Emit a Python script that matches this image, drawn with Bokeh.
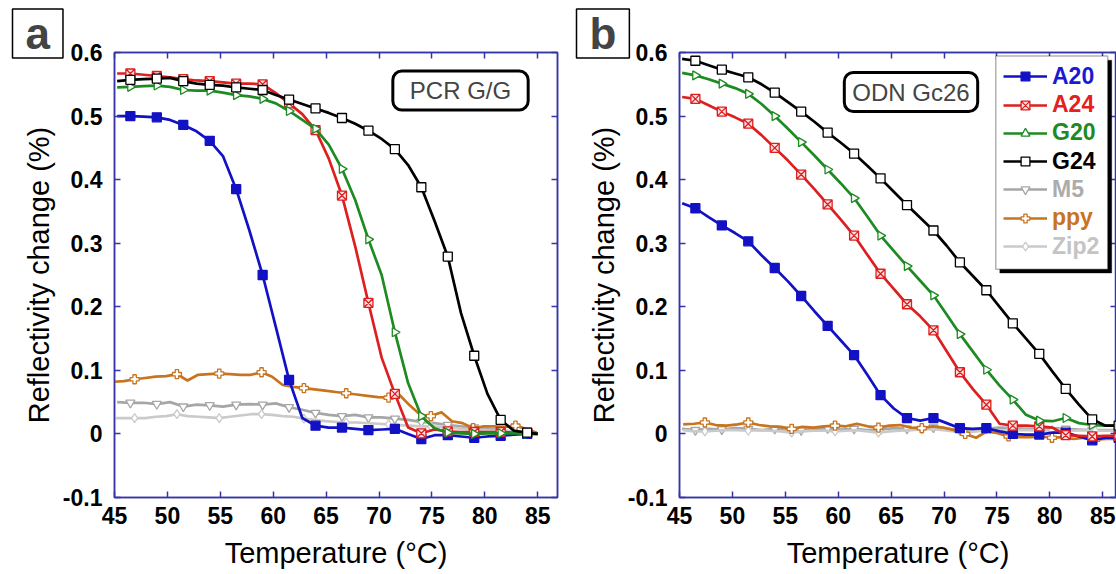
from bokeh.plotting import figure
from bokeh.layouts import row
from bokeh.models import (LinearAxis, FixedTicker, Range1d, Label, Legend,
                          LegendItem, BoxAnnotation, Title)
from bokeh.embed import file_html
from bokeh.resources import INLINE

# ---------------- data ----------------
series_names = ["A20", "A24", "G20", "G24", "M5", "ppy", "Zip2"]
x_ticks = [45, 50, 55, 60, 65, 70, 75, 80, 85]
y_ticks = [-0.1, 0, 0.1, 0.2, 0.3, 0.4, 0.5, 0.6]
y_tick_labels = ["-0.1", "0", "0.1", "0.2", "0.3", "0.4", "0.5", "0.6"]

# temperature samples (panel a)
t_a = [45.25, 46.5, 47.75, 49.0, 50.25, 51.5, 52.75, 54.0, 55.25, 56.5, 57.75,
       59.0, 60.25, 61.5, 62.75, 64.0, 65.25, 66.5, 67.75, 69.0, 70.25, 71.5,
       72.75, 74.0, 75.25, 76.5, 77.75, 79.0, 80.25, 81.5, 82.75, 84.0, 85.0]
t2_a = [44.9, 45.9, 46.9, 47.9, 48.9, 49.9, 50.9, 51.9, 52.9, 53.9, 54.9, 55.9,
        56.9, 57.9, 58.9, 59.9, 60.9, 61.9, 62.9, 63.9, 64.9, 65.9, 66.9, 67.9,
        68.9, 69.9, 70.9, 71.9, 72.9, 73.9, 74.9, 75.9, 76.9, 77.9, 78.9, 79.9,
        80.9, 81.9, 82.9, 83.9, 84.9]

A20_a = [0.500, 0.500, 0.499, 0.498, 0.494, 0.486, 0.476, 0.461, 0.437, 0.385, 0.320,
         0.250, 0.168, 0.085, 0.025, 0.013, 0.010, 0.010, 0.008, 0.006, 0.007, 0.008,
         0.000, -0.008, -0.002, -0.002, -0.004, -0.006, -0.004, -0.003, -0.001, 0.000, 0.000]
A24_a = [0.567, 0.567, 0.565, 0.563, 0.561, 0.558, 0.556, 0.555, 0.553, 0.551, 0.551,
         0.550, 0.536, 0.520, 0.503, 0.478, 0.433, 0.375, 0.295, 0.206, 0.120, 0.063,
         0.010, 0.001, 0.007, 0.004, 0.003, 0.003, 0.003, 0.003, 0.002, 0.002, 0.001]
G20_a = [0.545, 0.546, 0.547, 0.548, 0.546, 0.541, 0.540, 0.540, 0.537, 0.533, 0.531,
         0.527, 0.520, 0.508, 0.494, 0.480, 0.455, 0.417, 0.368, 0.306, 0.250, 0.160,
         0.080, 0.028, 0.009, 0.002, 0.001, 0.000, 0.001, 0.001, 0.001, 0.000, 0.000]
G24_a = [0.555, 0.557, 0.558, 0.559, 0.560, 0.555, 0.551, 0.549, 0.548, 0.545, 0.543,
         0.541, 0.533, 0.526, 0.519, 0.512, 0.505, 0.497, 0.488, 0.477, 0.464, 0.448,
         0.423, 0.388, 0.335, 0.279, 0.190, 0.123, 0.063, 0.022, 0.005, 0.002, 0.000]
M5_a = [0.050, 0.049, 0.049, 0.047, 0.050, 0.043, 0.046, 0.045, 0.043, 0.046, 0.047,
        0.046, 0.048, 0.042, 0.038, 0.033, 0.030, 0.028, 0.030, 0.026, 0.026, 0.024,
        0.022, 0.019, 0.017, 0.014, 0.012, 0.010, 0.008, 0.006, 0.003, 0.002, 0.001]
ppy_a = [0.082, 0.083, 0.086, 0.088, 0.090, 0.091, 0.094, 0.084, 0.093, 0.094, 0.095,
         0.094, 0.093, 0.093, 0.097, 0.090, 0.077, 0.074, 0.072, 0.070, 0.068, 0.066,
         0.064, 0.062, 0.060, 0.058, 0.057, 0.062, 0.045, 0.030, 0.028, 0.034, 0.020,
         0.017, 0.009, 0.012, 0.012, 0.011, 0.013, 0.008, 0.002]
Zip2_a = [0.025, 0.025, 0.025, 0.025, 0.027, 0.028, 0.031, 0.028, 0.027, 0.026, 0.025,
          0.027, 0.029, 0.031, 0.031, 0.030, 0.028, 0.027, 0.024, 0.022, 0.020, 0.019,
          0.018, 0.018, 0.017, 0.016, 0.015, 0.014, 0.013, 0.012, 0.012, 0.011, 0.010,
          0.008, 0.007, 0.006, 0.005, 0.004, 0.004, 0.003, 0.002]

# temperature samples (panel b)
t_b = [45.25, 46.5, 47.75, 49.0, 50.25, 51.5, 52.75, 54.0, 55.25, 56.5, 57.75,
       59.0, 60.25, 61.5, 62.75, 64.0, 65.25, 66.5, 67.75, 69.0, 70.25, 71.5,
       72.75, 74.0, 75.25, 76.5, 77.75, 79.0, 80.25, 81.5, 82.75, 84.0, 85.25, 86.5]
t2_b = [45.35, 46.38, 47.40, 48.43, 49.45, 50.48, 51.50, 52.53, 53.55, 54.58, 55.60,
        56.63, 57.65, 58.68, 59.70, 60.73, 61.75, 62.78, 63.80, 64.83, 65.85, 66.88,
        67.90, 68.93, 69.95, 70.98, 72.00, 73.03, 74.05, 75.08, 76.10, 77.13, 78.15,
        79.18, 80.20, 81.23, 82.25, 83.28, 84.30, 85.33, 86.35]

A20_b = [0.363, 0.355, 0.341, 0.328, 0.316, 0.303, 0.281, 0.261, 0.240, 0.217, 0.193,
         0.170, 0.147, 0.124, 0.093, 0.061, 0.040, 0.025, 0.021, 0.025, 0.017, 0.009,
         0.008, 0.009, 0.004, 0.000, -0.001, -0.001, 0.002, 0.002, -0.004, -0.010,
         -0.006, -0.006]
A24_b = [0.530, 0.527, 0.517, 0.507, 0.498, 0.488, 0.470, 0.450, 0.430, 0.408, 0.385,
         0.361, 0.337, 0.312, 0.282, 0.252, 0.228, 0.204, 0.185, 0.163, 0.130, 0.097,
         0.070, 0.046, 0.016, 0.013, 0.013, 0.012, 0.010, -0.002, -0.003, -0.004,
         -0.003, -0.003]
G20_b = [0.568, 0.564, 0.558, 0.551, 0.544, 0.535, 0.519, 0.500, 0.480, 0.459, 0.438,
         0.416, 0.394, 0.371, 0.342, 0.312, 0.288, 0.264, 0.241, 0.218, 0.188, 0.157,
         0.129, 0.101, 0.076, 0.054, 0.030, 0.021, 0.020, 0.025, 0.017, 0.014, 0.013,
         0.013]
G24_b = [0.590, 0.587, 0.580, 0.573, 0.567, 0.561, 0.550, 0.537, 0.522, 0.507, 0.491,
         0.474, 0.458, 0.441, 0.422, 0.402, 0.381, 0.360, 0.340, 0.320, 0.296, 0.270,
         0.248, 0.226, 0.200, 0.174, 0.150, 0.126, 0.098, 0.071, 0.046, 0.023, 0.013,
         0.013]
M5_b = [0.008, 0.006, 0.008, 0.007, 0.009, 0.008, 0.006, 0.008, 0.007, 0.006, 0.008,
        0.009, 0.007, 0.008, 0.006, 0.007, 0.009, 0.008, 0.010, 0.010, 0.008, 0.006,
        0.005, 0.008, 0.010, 0.009, 0.008, 0.007, 0.009, 0.008, 0.007, 0.006, 0.006,
        0.006]
ppy_b = [0.015, 0.016, 0.018, 0.014, 0.013, 0.015, 0.018, 0.014, 0.012, 0.011, 0.008,
         0.011, 0.010, 0.012, 0.013, 0.012, 0.016, 0.012, 0.010, 0.013, 0.014, 0.010,
         0.009, 0.012, 0.010, 0.006, 0.000, -0.006, 0.004, 0.001, -0.004, -0.005,
         -0.005, -0.004, -0.006, -0.005, -0.008, -0.006, -0.009, -0.008, -0.008]
Zip2_b = [0.006, 0.004, 0.004, 0.005, 0.006, 0.006, 0.005, 0.006, 0.005, 0.004, 0.002,
          0.004, 0.005, 0.005, 0.004, 0.005, 0.006, 0.004, 0.002, 0.004, 0.005, 0.006,
          0.007, 0.008, 0.006, 0.004, 0.002, 0.004, 0.006, 0.006, 0.005, 0.006, 0.006,
          0.005, 0.006, 0.007, 0.005, 0.006, 0.005, 0.005, 0.005]

panel_a = {"A20": (t_a, A20_a), "A24": (t_a, A24_a), "G20": (t_a, G20_a),
           "G24": (t_a, G24_a), "M5": (t_a, M5_a), "ppy": (t2_a, ppy_a),
           "Zip2": (t2_a, Zip2_a)}
panel_b = {"A20": (t_b, A20_b), "A24": (t_b, A24_b), "G20": (t_b, G20_b),
           "G24": (t_b, G24_b), "M5": (t_b, M5_b), "ppy": (t2_b, ppy_b),
           "Zip2": (t2_b, Zip2_b)}

# ---------------- styles ----------------
FRAME = "#3535a8"
FONT = "Liberation Sans"
STYLE = {
    "A20":  dict(color="#1212c4", marker="square", fill="#1212c4", angle=0.0,
                 text="#1a1ad2", m0=1, mstep=2),
    "A24":  dict(color="#dd1f1f", marker="square_x", fill="#fbe0e0", angle=0.0,
                 text="#e42020", m0=1, mstep=2),
    "G20":  dict(color="#1d8a22", marker="triangle", fill="white", angle=-1.5708,
                 text="#1d8a22", m0=1, mstep=2),
    "G24":  dict(color="#000000", marker="square", fill="white", angle=0.0,
                 text="#000000", m0=1, mstep=2),
    "M5":   dict(color="#a6a6a6", marker="inverted_triangle", fill="white", angle=0.0,
                 text="#acacac", m0=1, mstep=2),
    "ppy":  dict(color="#c8731e", marker="plus", fill="white", angle=0.0,
                 text="#c8731e", m0=2, mstep=4),
    "Zip2": dict(color="#cacaca", marker="diamond", fill="white", angle=0.0,
                 text="#c4c4c4", m0=2, mstep=4),
}
draw_order = ["M5", "Zip2", "ppy", "A20", "A24", "G20", "G24"]


def style_axis(ax, ticks, show_labels):
    ax.ticker = FixedTicker(ticks=ticks)
    ax.axis_line_color = FRAME
    ax.axis_line_width = 1.5
    ax.major_tick_line_color = FRAME
    ax.major_tick_line_width = 1.5
    ax.major_tick_in = 6
    ax.major_tick_out = 0
    ax.minor_tick_line_color = None
    if show_labels:
        ax.major_label_text_font = FONT
        ax.major_label_text_font_size = "23px"
        ax.major_label_text_font_style = "bold"
        ax.major_label_text_color = "black"
        ax.axis_label_text_font = FONT
        ax.axis_label_text_font_size = "29px"
        ax.axis_label_text_font_style = "normal"
        ax.axis_label_text_color = "black"
    else:
        # mirror axis: ticks only, labels not painted
        ax.major_label_text_font_size = "1px"
        ax.major_label_text_color = None
        ax.major_label_standoff = 0


def make_panel(data, width, b_left, b_right, x_end, tag, tag_pos, tag_pad,
               letter, letter_offset, with_legend):
    p = figure(width=width, height=574, x_range=Range1d(45, x_end),
               y_range=Range1d(-0.1, 0.6), output_backend="svg",
               toolbar_location=None, min_border_left=b_left,
               min_border_right=b_right, min_border_top=52, min_border_bottom=77)
    p.xgrid.visible = False
    p.ygrid.visible = False
    p.outline_line_color = FRAME
    p.outline_line_width = 1.5
    p.border_fill_color = "white"

    xa = p.xaxis[0]
    ya = p.yaxis[0]
    style_axis(xa, x_ticks, True)
    style_axis(ya, y_ticks, True)
    ya.major_label_overrides = {t: s for t, s in zip(y_ticks, y_tick_labels)}
    xa.axis_label = "Temperature (\u00b0C)"
    ya.axis_label = "Reflectivity change (%)"
    xa.major_label_standoff = 9
    xa.axis_label_standoff = 10
    ya.major_label_standoff = 12
    ya.axis_label_standoff = 5

    top = LinearAxis()
    style_axis(top, x_ticks, False)
    p.add_layout(top, "above")
    right = LinearAxis()
    style_axis(right, y_ticks, False)
    p.add_layout(right, "right")

    rends = {}
    for name in draw_order:
        st = STYLE[name]
        t, v = data[name]
        ln = p.line(t, v, line_color=st["color"], line_width=2.7)
        sc = p.scatter(t[st["m0"]::st["mstep"]], v[st["m0"]::st["mstep"]],
                       marker=st["marker"], size=9, angle=st["angle"],
                       line_color=st["color"], fill_color=st["fill"], line_width=1.3)
        rends[name] = (ln, sc)

    # boxed tag (PCR G/G / ODN Gc26)
    p.add_layout(Label(x=tag_pos[0], y=tag_pos[1], x_units="screen", y_units="screen",
                       text=tag, text_font=FONT, text_font_size="24px",
                       text_align="center", text_baseline="middle",
                       border_line_color="black", border_line_width=3,
                       border_radius=9, background_fill_color="white",
                       padding=tag_pad))

    # boxed panel letter
    p.add_layout(Title(text=letter, align="left", offset=letter_offset, standoff=-15,
                       vertical_align="top", text_font=FONT,
                       text_font_size="44px", text_font_style="bold",
                       border_line_color="black", border_line_width=1.5,
                       background_fill_color="white",
                       padding=dict(left=13, right=13, top=0, bottom=0)), "above")

    if with_legend:
        # legend frame with drop shadow
        p.add_layout(BoxAnnotation(left=75.27, right=85.85, top=0.588, bottom=0.253,
                                   fill_color="black", fill_alpha=1.0,
                                   line_color="black"))
        p.add_layout(BoxAnnotation(left=74.89, right=85.47, top=0.5945, bottom=0.259,
                                   fill_color="white", fill_alpha=1.0,
                                   line_color="black", line_width=1.5))
        for i, name in enumerate(series_names):
            st = STYLE[name]
            ln, sc = rends[name]
            row_center = 76.7 + 28.3 * i       # page px from top
            y_loc = (497 - row_center) - 13     # frame-relative px
            lg = Legend(items=[LegendItem(label=name, renderers=[ln, sc])],
                        location=(324, y_loc), orientation="vertical",
                        padding=0, margin=0, spacing=0, glyph_width=44,
                        glyph_height=22, label_height=22, label_standoff=5,
                        label_text_font=FONT, label_text_font_size="23px",
                        label_text_font_style="bold", label_text_color=st["text"],
                        border_line_color=None, background_fill_alpha=0.0)
            p.add_layout(lg)
    return p


pa = make_panel(panel_a, 568, 114, 11, 86.87, "PCR G/G", (346, 407),
                dict(left=17, right=17, top=6, bottom=6), "a", -102, False)
pb = make_panel(panel_b, 548, 111, 0, 86.30, "ODN Gc26", (231.5, 405.5),
                dict(left=8, right=8, top=6, bottom=6), "b", -103, True)

layout = row(pa, pb)
open("out.html", "w").write(file_html(layout, INLINE))
